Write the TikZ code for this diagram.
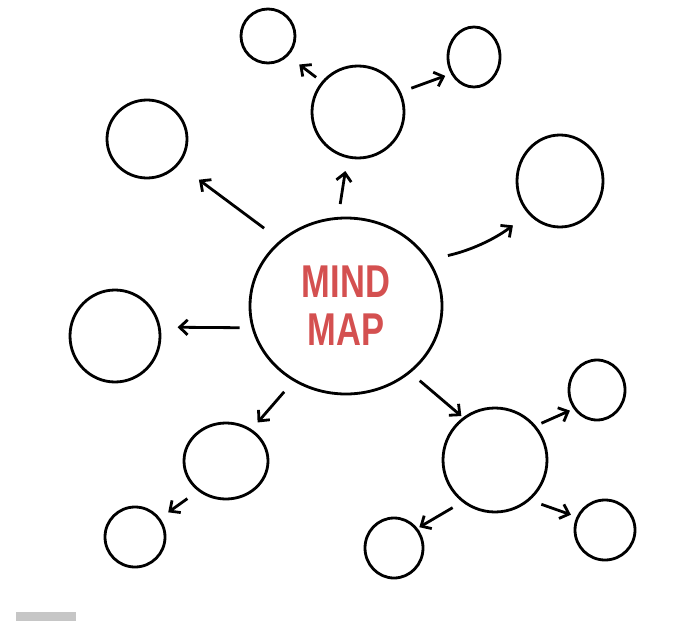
\documentclass[tikz,border=0pt]{standalone}
\usepackage{fontspec}
\usetikzlibrary{shapes.geometric,arrows.meta}
\newfontfamily\mapfont[FakeStretch=0.75]{Liberation Sans}
\definecolor{mapred}{RGB}{212,80,80}

\begin{document}
\begin{tikzpicture}[x=1pt, y=-1pt, line width=2.8pt,
  bub/.style={draw, ellipse, inner sep=0pt},
  link/.style={-{Straight Barb[length=8pt,width=15pt]}}]
  \useasboundingbox (0,0) rectangle (679,623);
  % centre circle
  \node[bub, minimum width=192pt, minimum height=176pt, text=mapred, align=center,
    font=\mapfont\bfseries\fontsize{46}{48}\selectfont] (M) at (346,306) {MIND\\MAP};
  % first ring
  \node[bub, minimum width=92pt, minimum height=92pt] (T) at (358,112) {};
  \node[bub, minimum width=80pt, minimum height=78pt] (UL) at (147,139) {};
  \node[bub, minimum width=90pt, minimum height=92pt] (L) at (115,336) {};
  \node[bub, minimum width=86pt, minimum height=92pt] (UR) at (560,181) {};
  \node[bub, minimum width=104pt, minimum height=104pt] (BR) at (495,460) {};
  \node[bub, minimum width=84pt, minimum height=76pt] (BL) at (226,461) {};
  % second ring
  \node[bub, minimum width=54pt, minimum height=54pt] (Ta) at (268,36) {};
  \node[bub, minimum width=52pt, minimum height=60pt] (Tb) at (474,57) {};
  \node[bub, minimum width=56pt, minimum height=60pt] (BRa) at (597,390) {};
  \node[bub, minimum width=60pt, minimum height=60pt] (BRb) at (605,530) {};
  \node[bub, minimum width=58pt, minimum height=60pt] (BRc) at (394,548) {};
  \node[bub, minimum width=60pt, minimum height=60pt] (BLa) at (135,537) {};
  % arrows
  \draw[link, shorten <=13pt, shorten >=13pt] (M.95) -- (T.257);
  \draw[link, shorten <=7pt, shorten >=14pt] (T.140) -- (Ta.315);
  \draw[link, shorten <=11pt, shorten >=6pt] (T.25) -- (Tb.216);
  \draw[link, shorten <=20pt, shorten >=25pt] (M.135) -- (UL.321);
  \draw[link, shorten <=12pt, shorten >=17pt] (M.193) -- (L.11);
  \draw[link, shorten <=19pt, shorten >=19pt] (M.29) to[bend right=12] (UR.226);
  \draw[link, shorten <=12pt, shorten >=2pt] (M.314) -- (BR.127);
  \draw[link, shorten <=6pt, shorten >=4pt] (BR.40) -- (BRa.219);
  \draw[link, shorten <=12pt, shorten >=6pt] (BR.311) -- (BRb.155);
  \draw[link, shorten <=11pt, shorten >=2pt] (BR.232) -- (BRc.40);
  \draw[link, shorten <=14pt, shorten >=9pt] (M.235) -- (BL.51);
  \draw[link, shorten <=13pt, shorten >=10pt] (BL.227) -- (BLa.37);
  % logo strip
  \fill[gray!45] (16,612) rectangle (76,621);
\end{tikzpicture}
\end{document}
